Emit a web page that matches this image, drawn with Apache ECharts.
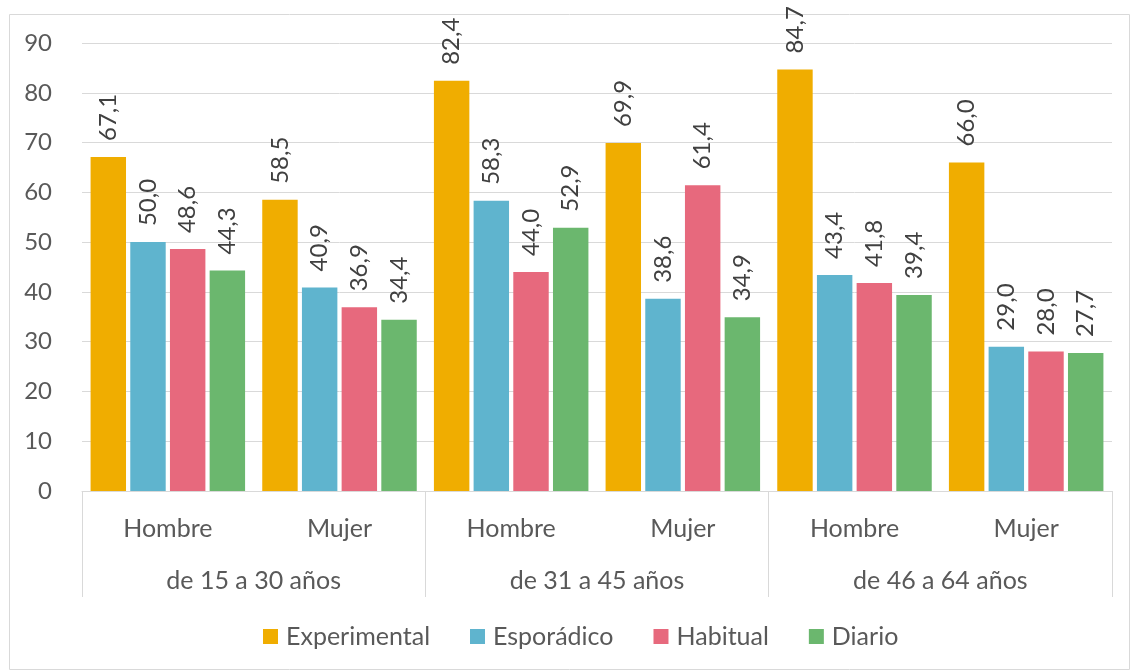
<!DOCTYPE html>
<html><head><meta charset="utf-8">
<script src="https://cdn.jsdelivr.net/npm/echarts@6/dist/echarts.min.js"></script>
<style>html,body{margin:0;padding:0;background:#fff}#c{width:1131px;height:671px}</style>
</head><body><div id="c"></div>
<script>
const sexes = ['Hombre','Mujer','Hombre','Mujer','Hombre','Mujer'];
const ageGroups = ['de 15 a 30 años','de 31 a 45 años','de 46 a 64 años'];
const seriesNames = ['Experimental','Esporádico','Habitual','Diario'];
const experimental = [67.1, 58.5, 82.4, 69.9, 84.7, 66.0];
const esporadico = [50.0, 40.9, 58.3, 38.6, 43.4, 29.0];
const habitual = [48.6, 36.9, 44.0, 61.4, 41.8, 28.0];
const diario = [44.3, 34.4, 52.9, 34.9, 39.4, 27.7];
const yTicks = {min: 0, max: 90, interval: 10};

const colors = ['#F0AD00','#5FB4CE','#E7697D','#6BB76E'];
const values = [experimental, esporadico, habitual, diario];
const FONT = 'Lato';
const TXT = '#595959';

const chart = echarts.init(document.getElementById('c'));
chart.setOption({
  animation: false,
  textStyle: {fontFamily: FONT},
  graphic: [{type:'rect', left:7, top:12, shape:{width:1120, height:655}, style:{fill:'none', stroke:'#D9D9D9', lineWidth:1}, silent:true}],
  grid: {left: 82, right: 19, top: 43, bottom: 180},
  legend: {
    bottom: 17, left: 258, itemWidth: 15, itemHeight: 15, itemGap: 40,
    icon: 'rect',
    textStyle: {fontSize: 25, color: TXT, fontFamily: FONT, padding:[0,0,0,3]},
    data: seriesNames
  },
  xAxis: [
    {type:'category', data: sexes, position:'bottom',
     axisLine:{show:true, lineStyle:{color:'#D9D9D9'}},
     axisTick:{show:false},
     axisLabel:{color:TXT, fontSize:25, margin:25, fontFamily:FONT}},
    {type:'category', data: ageGroups, position:'bottom',
     axisLine:{show:false},
     axisTick:{show:true, length:106, lineStyle:{color:'#D9D9D9'}},
     axisLabel:{color:TXT, fontSize:25, margin:77, fontFamily:FONT}}
  ],
  yAxis: {type:'value', min: yTicks.min, max: yTicks.max, interval: yTicks.interval,
    axisLine:{show:false}, axisTick:{show:false},
    axisLabel:{color:TXT, fontSize:24, margin:30, fontFamily:FONT},
    splitLine:{lineStyle:{color:'#D9D9D9'}}},
  series: seriesNames.map((n,i)=>({
    name:n, type:'bar', xAxisIndex:0, data: values[i],
    barCategoryGap:'10%', barGap:'12%',
    itemStyle:{color:colors[i]},
    label:{show:true, position:'top', rotate:90, align:'left', verticalAlign:'middle', distance:16,
      color:'#404040', fontSize:24, fontFamily:FONT,
      formatter: p => p.value.toFixed(1).replace('.', ',')}
  }))
});
</script></body></html>
